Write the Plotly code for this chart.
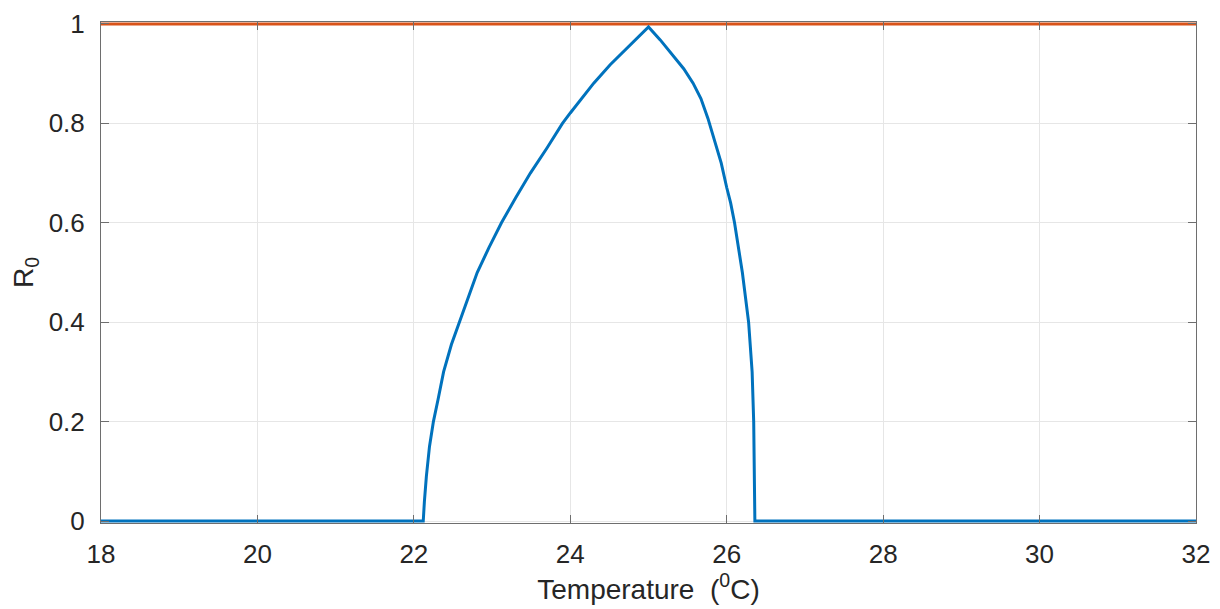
import plotly.graph_objects as go

# Temperature (deg C) vs R0
temperature = [18, 22.12, 22.135, 22.16, 22.20, 22.25, 22.31, 22.38, 22.48, 22.58,
               22.69, 22.81, 22.96, 23.12, 23.30, 23.49, 23.70, 23.90, 24.00,
               24.30, 24.51, 24.72, 24.89, 25.00,
               25.15, 25.32, 25.45, 25.57, 25.67, 25.76, 25.86, 25.93, 26.00,
               26.05, 26.10, 26.20, 26.28, 26.325, 26.345, 26.357, 26.36, 32]
r0 = [0, 0, 0.04, 0.09, 0.15, 0.2, 0.245, 0.3, 0.355, 0.4,
      0.45, 0.5, 0.55, 0.6, 0.65, 0.7, 0.75, 0.8, 0.821,
      0.881, 0.918, 0.951, 0.977, 0.994,
      0.968, 0.934, 0.91, 0.881, 0.85, 0.81, 0.76, 0.72, 0.671,
      0.64, 0.6, 0.5, 0.4, 0.3, 0.2, 0.1, 0, 0]

# threshold line R0 = 1
threshold_t = [18, 32]
threshold_r = [1, 1]

x_ticks = [18, 20, 22, 24, 26, 28, 30, 32]
y_ticks = [0, 0.2, 0.4, 0.6, 0.8, 1]

fig = go.Figure()
fig.add_trace(go.Scatter(x=threshold_t, y=threshold_r, mode="lines",
                         line=dict(color="#D95319", width=3)))
fig.add_trace(go.Scatter(x=temperature, y=r0, mode="lines",
                         line=dict(color="#0072BD", width=3)))

axis_common = dict(
    showline=True, linecolor="#6e6e6e", linewidth=1, mirror="ticks",
    ticks="inside", ticklen=8, tickcolor="#6e6e6e", tickwidth=1,
    showgrid=True, gridcolor="#e6e6e6", gridwidth=1, zeroline=False,
    tickfont=dict(size=26, color="#262626"), automargin=False,
)

# page has an 8px body margin, so the margins are shifted by that much
fig.update_layout(
    width=1220, height=609,
    margin=dict(l=93, r=32, t=14, b=94),
    paper_bgcolor="white", plot_bgcolor="white",
    showlegend=False,
    font=dict(family="Arial, Liberation Sans, sans-serif", color="#262626"),
    xaxis=dict(range=[18, 32], tickvals=x_ticks, ticklabelstandoff=8,
               title=dict(text="Temperature  (<sup>0</sup>C)", font=dict(size=28), standoff=6),
               **axis_common),
    yaxis=dict(range=[-0.004, 1.004], tickvals=y_ticks, ticklabelstandoff=10,
               title=dict(text="R<sub>0</sub>", font=dict(size=28), standoff=14),
               **axis_common),
)

fig.write_html("out.html")
